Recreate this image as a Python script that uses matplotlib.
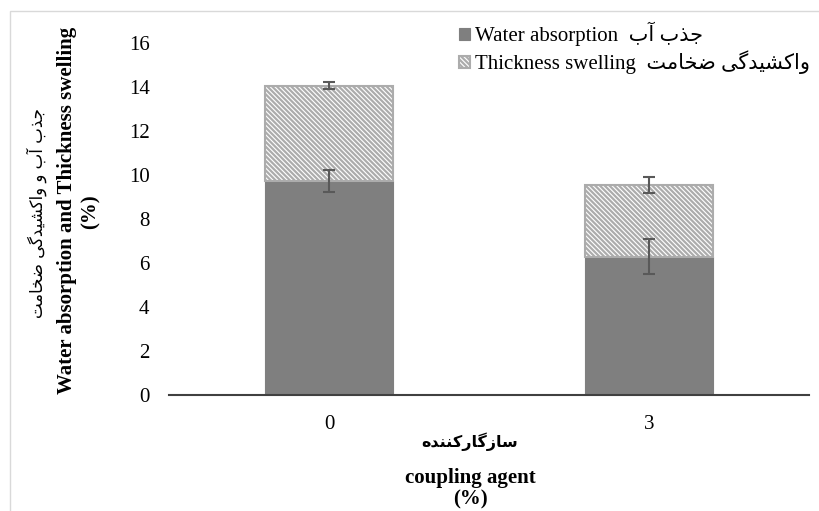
import matplotlib
matplotlib.use("Agg")
import matplotlib.pyplot as plt
from matplotlib.patches import Rectangle
import numpy as np

# ─────────────────────────────────────────
# DATA
# ─────────────────────────────────────────
categories = ["0", "3"]
water_absorption = [9.75, 6.3]
thickness_swelling = [4.33, 3.26]
wa_err = [0.5, 0.8]
total_err = [0.18, 0.36]
y_ticks = [0, 2, 4, 6, 8, 10, 12, 14, 16]

# ─────────────────────────────────────────
# Minimal Persian shaping (matplotlib has no bidi / joining support)
# forms: isolated, final, initial, medial
# ─────────────────────────────────────────
FORMS = {
    "ا": ("\uFE8D", "\uFE8E", None, None),
    "آ": ("\uFE81", "\uFE82", None, None),
    "ب": ("\uFE8F", "\uFE90", "\uFE91", "\uFE92"),
    "ت": ("\uFE95", "\uFE96", "\uFE97", "\uFE98"),
    "ج": ("\uFE9D", "\uFE9E", "\uFE9F", "\uFEA0"),
    "خ": ("\uFEA5", "\uFEA6", "\uFEA7", "\uFEA8"),
    "د": ("\uFEA9", "\uFEAA", None, None),
    "ذ": ("\uFEAB", "\uFEAC", None, None),
    "ر": ("\uFEAD", "\uFEAE", None, None),
    "ز": ("\uFEAF", "\uFEB0", None, None),
    "س": ("\uFEB1", "\uFEB2", "\uFEB3", "\uFEB4"),
    "ش": ("\uFEB5", "\uFEB6", "\uFEB7", "\uFEB8"),
    "ض": ("\uFEBD", "\uFEBE", "\uFEBF", "\uFEC0"),
    "م": ("\uFEE1", "\uFEE2", "\uFEE3", "\uFEE4"),
    "ن": ("\uFEE5", "\uFEE6", "\uFEE7", "\uFEE8"),
    "ه": ("\uFEE9", "\uFEEA", "\uFEEB", "\uFEEC"),
    "و": ("\uFEED", "\uFEEE", None, None),
    "ی": ("\uFBFC", "\uFBFD", "\uFBFE", "\uFBFF"),
    "ک": ("\uFB8E", "\uFB8F", "\uFB90", "\uFB91"),
    "گ": ("\uFB92", "\uFB93", "\uFB94", "\uFB95"),
}
RIGHT_ONLY = set("اآدذرزو")


def fa(text):
    """Shape Persian letters and return them in visual (left-to-right) order."""
    out = []
    n = len(text)
    for i, c in enumerate(text):
        if c not in FORMS:
            out.append(c)
            continue
        prev = text[i - 1] if i > 0 else ""
        nxt = text[i + 1] if i < n - 1 else ""
        joins_prev = prev in FORMS and prev not in RIGHT_ONLY
        joins_next = nxt in FORMS and c not in RIGHT_ONLY
        iso, fin, ini, med = FORMS[c]
        if joins_prev and joins_next:
            out.append(med)
        elif joins_prev:
            out.append(fin)
        elif joins_next:
            out.append(ini)
        else:
            out.append(iso)
    return "".join(reversed(out))


wa_label = "Water absorption  " + fa("جذب آب")
ts_label = "Thickness swelling  " + fa("واکشیدگی ضخامت")
ylabel_fa = fa("جذب آب و واکشیدگی ضخامت")
ylabel_en = "Water absorption and Thickness swelling"
xlabel_fa = fa("سازگارکننده")
xlabel_en = "coupling agent"

SERIF = ["Liberation Serif", "DejaVu Sans"]
plt.rcParams["hatch.linewidth"] = 1.6

# ─────────────────────────────────────────
# PLOT
# ─────────────────────────────────────────
W, H = 820, 511
fig = plt.figure(figsize=(W / 100, H / 100), dpi=100)
fig.patch.set_facecolor("white")

# light chart-area border (right/bottom edges run off the picture)
fig.add_artist(Rectangle((10 / W, -0.1), 1.2, (H - 11) / H + 0.1,
                         transform=fig.transFigure, fill=False,
                         edgecolor="#d9d9d9", linewidth=1.0))

ax = fig.add_axes([169 / W, (H - 395.3) / H, 640 / W, 352 / H])
x = np.arange(len(categories))
width = 0.4

wa = np.array(water_absorption)
ts = np.array(thickness_swelling)

b1 = ax.bar(x, wa, width, color="#7f7f7f", edgecolor="#7f7f7f",
            linewidth=0.8, label=wa_label, zorder=2)
b2 = ax.bar(x, ts, width, bottom=wa, color="white", edgecolor="#acacac",
            hatch="\\" * 7, linewidth=1.5, label=ts_label, zorder=2)

ax.errorbar(x, wa, yerr=wa_err, fmt="none", ecolor="#595959",
            elinewidth=1.5, capsize=4.5, capthick=1.5, zorder=3)
ax.errorbar(x, wa + ts, yerr=total_err, fmt="none", ecolor="#595959",
            elinewidth=1.5, capsize=4.5, capthick=1.5, zorder=3)

ax.set_xlim(-0.5, 1.5)
ax.set_ylim(0, 16)
ax.set_yticks(y_ticks)
ax.set_xticks(x)
ax.set_xticklabels(categories)

for lab in ax.get_xticklabels() + ax.get_yticklabels():
    lab.set_fontfamily(SERIF)
    lab.set_fontsize(15)
ax.tick_params(axis="y", length=0, pad=14)
ax.tick_params(axis="x", length=0, pad=14)

for s in ["top", "right", "left"]:
    ax.spines[s].set_visible(False)
ax.spines["bottom"].set_color("#404040")
ax.spines["bottom"].set_linewidth(1.5)

# axis titles
fig.text(37 / W, 1 - 213 / H, ylabel_fa, rotation=90, ha="center", va="center",
         fontsize=12, family=["DejaVu Sans"])
fig.text(67 / W, 1 - 210 / H, ylabel_en, rotation=90, ha="center", va="center",
         fontsize=15, fontweight="bold", family=SERIF)
fig.text(91 / W, 1 - 212 / H, "(%)", rotation=90, ha="center", va="center",
         fontsize=15, fontweight="bold", family=SERIF)

fig.text(470 / W, 1 - 442 / H, xlabel_fa, ha="center", va="center",
         fontsize=11.5, fontweight="bold", family=["DejaVu Sans"])
fig.text(470 / W, 1 - 478 / H, xlabel_en, ha="center", va="center",
         fontsize=15, fontweight="bold", family=SERIF)
fig.text(470 / W, 1 - 499 / H, "(%)", ha="center", va="center",
         fontsize=15, fontweight="bold", family=SERIF)

ax.legend(handles=[b1, b2], loc="upper left",
          bbox_to_anchor=(459 / W, 1 - 22 / H), bbox_transform=fig.transFigure,
          frameon=False, prop={"family": SERIF, "size": 15},
          handlelength=0.55, handleheight=0.55, handletextpad=0.2,
          labelspacing=0.2, borderaxespad=0, borderpad=0)

fig.savefig("out.png", dpi=100, facecolor="white")
